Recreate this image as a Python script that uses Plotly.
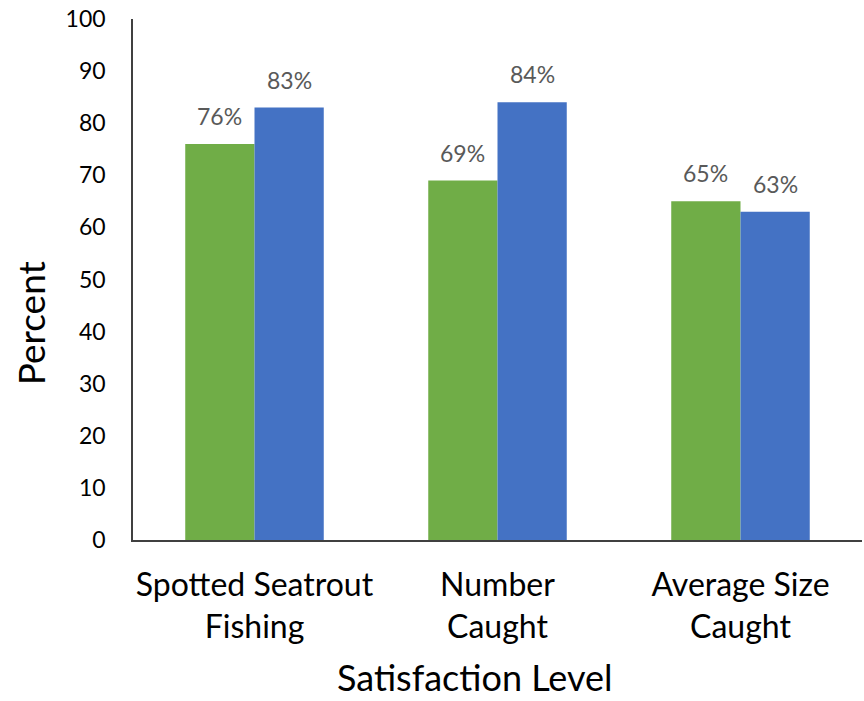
import plotly.graph_objects as go

categories = ["Spotted Seatrout<br>Fishing", "Number<br>Caught", "Average Size<br>Caught"]
green_values = [76, 69, 65]
blue_values = [83, 84, 63]
y_ticks = list(range(0, 101, 10))

FONT = "Lato, Carlito, Calibri, sans-serif"
GREEN = "#70AD47"
BLUE = "#4472C4"

fig = go.Figure()
fig.add_trace(go.Bar(x=categories, y=green_values, marker_color=GREEN, marker_line_width=0))
fig.add_trace(go.Bar(x=categories, y=blue_values, marker_color=BLUE, marker_line_width=0))

# data labels, lifted above the bars like Excel does
bar_px = 243 * (1 - 0.43) / 2
for cat, g, b in zip(categories, green_values, blue_values):
    for val, shift in ((g, -bar_px / 2), (b, bar_px / 2)):
        fig.add_annotation(x=cat, y=val, text=f"{val}%", showarrow=False,
                           xshift=shift, yshift=28, yanchor="middle",
                           font=dict(size=23, color="#595959", family=FONT))

# axis titles placed where the reference has them
fig.add_annotation(text="Satisfaction Level", xref="paper", yref="paper",
                   x=0.469, y=-0.263, showarrow=False, xanchor="center", yanchor="middle",
                   borderpad=0, font=dict(size=36, color="#000000", family=FONT))
fig.add_annotation(text="Percent", xref="paper", yref="paper", textangle=-90,
                   x=-0.141, y=0.4165, showarrow=False, xanchor="center", yanchor="middle",
                   font=dict(size=37, color="#000000", family=FONT))

fig.update_layout(
    width=864, height=701,
    margin=dict(l=133, r=2, t=19, b=161),
    paper_bgcolor="white", plot_bgcolor="white",
    barmode="group", bargap=0.43, bargroupgap=0,
    showlegend=False,
    font=dict(family=FONT, color="#000000"),
)
fig.update_yaxes(range=[0, 100], tickvals=y_ticks, showgrid=False, zeroline=False,
                 showline=True, linecolor="#404040", linewidth=1.5, ticks="",
                 ticklabelstandoff=21, tickfont=dict(size=23, color="#000000"),
                 automargin=False)
fig.update_xaxes(showgrid=False, showline=True, linecolor="#404040", linewidth=1.5,
                 ticks="", ticklabelstandoff=16, tickfont=dict(size=32, color="#000000"),
                 automargin=False)

# the page body has a default 8px margin; drop it so the figure fills the window
fig.write_html("out.html", config={"displayModeBar": False},
               post_script="document.body.style.margin='0';")
